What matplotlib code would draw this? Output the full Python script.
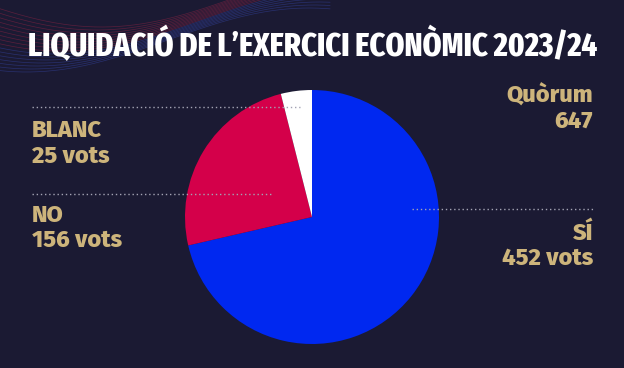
import matplotlib
matplotlib.use("Agg")
import matplotlib.pyplot as plt
import numpy as np

# dades de la votació
categories = ["SÍ", "NO", "BLANC"]
vots = [452, 156, 25]
quorum = 647
titol = "LIQUIDACIÓ DE L\u2019EXERCICI ECONÒMIC 2023/24"

bg = "#1b1a33"
gold = "#cdb47b"
colors = ["#0028f0", "#d4004a", "#ffffff"]
title_font = ["Fira Sans Extra Condensed", "Barlow Condensed", "DejaVu Sans"]
label_font = ["Fira Sans", "Fira Sans Condensed", "DejaVu Sans"]

W, H = 624, 368
fig = plt.figure(figsize=(W / 100, H / 100), dpi=100, facecolor=bg)

# capa de fons: ones decoratives
bgax = fig.add_axes([0, 0, 1, 1])
bgax.set_xlim(0, W)
bgax.set_ylim(H, 0)
bgax.axis("off")
t = np.linspace(-60, 330, 200)
for k in range(16):
    yy = -25 + k * 3.0 + 32 * np.sin((t + 40 + k * 5) / 90.0)
    col = "#b8264a" if k < 9 else "#3c52c8"
    bgax.plot(t, yy + 20, color=col, lw=0.5, alpha=0.4)

# pastís
cx, cy, r = 312, 217, 127
pax = fig.add_axes([(cx - r) / W, (H - cy - r) / H, 2 * r / W, 2 * r / H])
pax.pie(vots, colors=colors, startangle=90, counterclock=False,
        wedgeprops=dict(linewidth=0))
pax.set_xlim(-1, 1)
pax.set_ylim(-1, 1)
pax.set_aspect("auto")

# capa de text i línies per sobre del pastís
ax = fig.add_axes([0, 0, 1, 1])
ax.set_xlim(0, W)
ax.set_ylim(H, 0)
ax.axis("off")
ax.patch.set_alpha(0)

tt = ax.text(313, 56, titol, color="white", fontsize=31, fontweight=800,
             family=title_font, ha="center", va="baseline")
# ajusta l'amplada del títol a ~570 px
rend = fig.canvas.get_renderer()
w = tt.get_window_extent(rend).width
if w > 572:
    tt.set_fontsize(31 * 570 / w)

dot = dict(color="#a3a3b3", lw=1.0, ls=(0, (1, 2)))
ax.plot([32, 300], [107, 107], **dot)
ax.plot([32, 271], [194, 194], **dot)
ax.plot([412, 593], [209, 209], **dot)

lab = dict(color=gold, fontsize=17, fontweight=800, family=label_font, va="baseline")
ax.text(32, 137, categories[2], ha="left", **lab)
ax.text(32, 163, f"{vots[2]} vots", ha="left", **lab)
ax.text(32, 222, categories[1], ha="left", **lab)
ax.text(32, 247, f"{vots[1]} vots", ha="left", **lab)
ax.text(593, 103, "Quòrum", ha="right", **lab)
ax.text(593, 128, f"{quorum}", ha="right", **lab)
ax.text(593, 240, categories[0], ha="right", **lab)
ax.text(593, 265, f"{vots[0]} vots", ha="right", **lab)

fig.savefig("out.png", dpi=100, facecolor=bg)
